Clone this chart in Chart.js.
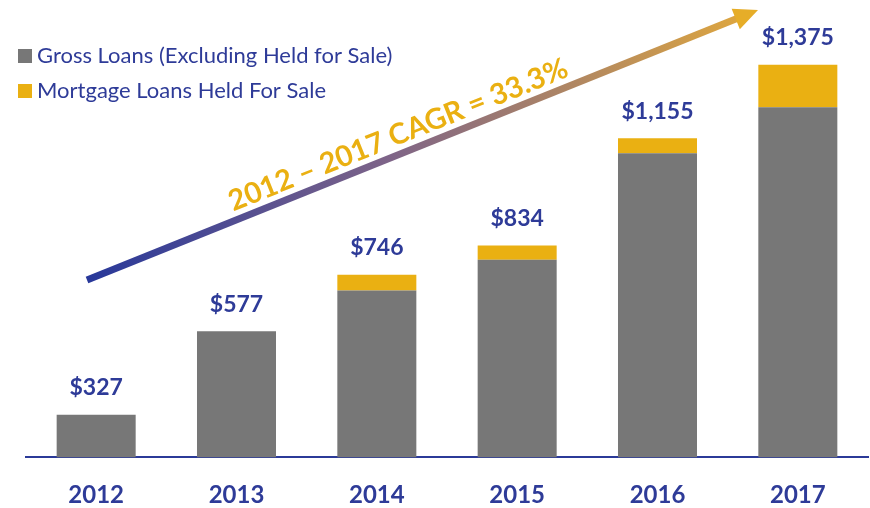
<!DOCTYPE html>
<html>
<head>
<meta charset="utf-8">
<script src="https://cdn.jsdelivr.net/npm/chart.js@4/dist/chart.umd.min.js"></script>
<style>
  html, body { margin: 0; padding: 0; background: #fff; }
  #wrap { width: 870px; height: 508px; position: relative; }
</style>
</head>
<body>
<div id="wrap"><canvas id="loansChart"></canvas></div>
<script>
const years = ['2012', '2013', '2014', '2015', '2016', '2017'];
const grossLoans = [327, 577, 699, 791, 1110, 1248];
const heldForSale = [0, 0, 47, 43, 45, 127];
const totalLabels = ['$327', '$577', '$746', '$834', '$1,155', '$1,375'];
const cagrText = '2012 \u2013 2017 CAGR = 33.3%';

const blue = '#2E3B98';
const gray = '#777777';
const gold = '#EAB012';
const fontName = 'Lato, "Open Sans", sans-serif';

// legend, total labels and the CAGR arrow
const extrasPlugin = {
    id: 'extras',
    afterDatasetsDraw(chart) {
        const ctx = chart.ctx;
        const top = chart.getDatasetMeta(chart.data.datasets.length - 1);
        ctx.save();
        ctx.fillStyle = blue;
        ctx.font = 'bold 23px ' + fontName;
        ctx.textAlign = 'center';
        ctx.textBaseline = 'middle';
        top.data.forEach((bar, i) => {
            ctx.fillText(totalLabels[i], bar.x, bar.y - 27);
        });

        // legend
        ctx.textAlign = 'left';
        ctx.font = '22px ' + fontName;
        chart.data.datasets.forEach((ds, i) => {
            const y = 56 + i * 35;
            ctx.fillStyle = ds.backgroundColor;
            ctx.fillRect(18, y - 7, 14, 14);
            ctx.fillStyle = blue;
            ctx.fillText(ds.label, 37, y);
        });

        // arrow
        const x0 = 87, y0 = 280, x1 = 758, y1 = 10;
        const ang = Math.atan2(y1 - y0, x1 - x0);
        const headLen = 24, headW = 11;
        const bx = x1 - headLen * Math.cos(ang), by = y1 - headLen * Math.sin(ang);
        const grad = ctx.createLinearGradient(x0, y0, x1, y1);
        grad.addColorStop(0, '#28389A');
        grad.addColorStop(0.45, '#7E6488');
        grad.addColorStop(1, '#E2A93C');
        ctx.strokeStyle = grad;
        ctx.lineWidth = 7;
        ctx.lineCap = 'butt';
        ctx.beginPath();
        ctx.moveTo(x0, y0);
        ctx.lineTo(bx + 2 * Math.cos(ang), by + 2 * Math.sin(ang));
        ctx.stroke();
        ctx.fillStyle = '#E6AD28';
        ctx.beginPath();
        ctx.moveTo(x1, y1);
        ctx.lineTo(bx + headW * Math.sin(ang), by - headW * Math.cos(ang));
        ctx.lineTo(bx - headW * Math.sin(ang), by + headW * Math.cos(ang));
        ctx.closePath();
        ctx.fill();

        // CAGR text along the arrow
        const t = (405 - x0) / (x1 - x0);
        const cx = x0 + t * (x1 - x0), cy = y0 + t * (y1 - y0);
        ctx.translate(cx, cy);
        ctx.rotate(ang);
        ctx.fillStyle = gold;
        ctx.font = 'bold 29px ' + fontName;
        ctx.textAlign = 'center';
        ctx.textBaseline = 'alphabetic';
        ctx.fillText(cagrText, 0, -9);
        ctx.restore();
    }
};

const ctx = document.getElementById('loansChart').getContext('2d');
const loansChart = new Chart(ctx, {
    type: 'bar',
    data: {
        labels: years,
        datasets: [{
            label: 'Gross Loans (Excluding Held for Sale)',
            data: grossLoans,
            backgroundColor: gray,
            categoryPercentage: 0.563,
            barPercentage: 1
        }, {
            label: 'Mortgage Loans Held For Sale',
            data: heldForSale,
            backgroundColor: gold,
            categoryPercentage: 0.563,
            barPercentage: 1
        }]
    },
    options: {
        responsive: true,
        maintainAspectRatio: false,
        animation: false,
        layout: { padding: { top: 23, left: 26, right: 2, bottom: -26 } },
        plugins: {
            legend: { display: false },
            tooltip: { enabled: false }
        },
        scales: {
            x: {
                stacked: true,
                grid: { display: false, drawTicks: false },
                border: { display: true, color: '#2B3A98', width: 2 },
                ticks: {
                    color: blue,
                    padding: 24,
                    font: { family: fontName, size: 24, weight: 'bold' }
                }
            },
            y: {
                stacked: true,
                display: false,
                min: 200,
                max: 1500
            }
        }
    },
    plugins: [extrasPlugin]
});
</script>
</body>
</html>
